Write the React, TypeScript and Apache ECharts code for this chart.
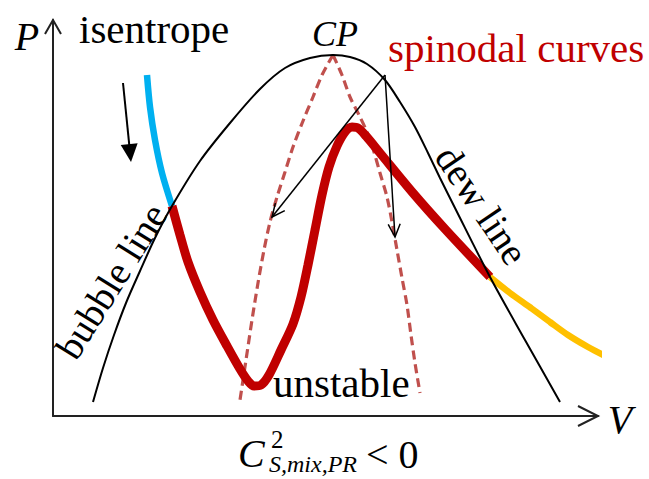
import React, { useEffect, useRef } from "react";
import * as echarts from "echarts";

// Schematic P–V diagram. Data units: V to the right, P upward.
const V_MAX = 545;
const P_MAX = 396;

// Binodal (bubble line on the left, dew line on the right), critical point at the top
const binodal: [number, number][] = [
  [40, 14], [50, 48], [61, 81], [73, 113], [87, 145], [102, 178], [119, 210],
  [147, 255], [177, 293], [207, 327], [232, 348], [257, 358], [280, 361],
  [297, 359], [314, 352], [332, 336], [347, 314], [362, 289], [375, 263],
  [387, 238], [402, 208], [437, 139], [472, 76], [507, 14],
];

// Isentrope: liquid branch (blue), inside the two-phase region (red), vapour branch (yellow)
const isentropeLiquid: [number, number][] = [
  [94, 341], [97, 309], [102, 276], [109, 243], [119, 210],
];
const isentropeTwoPhase: [number, number][] = [
  [119, 210], [127, 181], [135, 154], [147, 124], [160, 96], [174, 70], [187, 47],
  [195, 35], [201, 30], [208, 31], [216, 41], [228, 66], [240, 92], [248, 119],
  [255, 151], [262, 186], [269, 221], [276, 249], [284, 270], [292, 284],
  [299, 289], [305, 288], [313, 280], [327, 263], [360, 223], [392, 187], [437, 139],
];
const isentropeVapor: [number, number][] = [
  [437, 139], [457, 123], [478, 108], [497, 94], [515, 81], [535, 69], [554, 59],
];

// Spinodal curves (dashed), both starting at the critical point
const spinodalLeft: [number, number][] = [
  [280, 361], [269, 341], [260, 319], [250, 295], [240, 269], [232, 244],
  [224, 219], [217, 194], [211, 166], [205, 133], [199, 96], [193, 56], [187, 16],
];
const spinodalRight: [number, number][] = [
  [280, 361], [289, 341], [297, 319], [306, 301], [314, 284], [321, 264],
  [327, 243], [334, 219], [339, 194], [344, 166], [349, 138], [354, 111],
  [358, 81], [362, 53], [367, 23],
];

// Arrows: [fromV, fromP, toV, toP]
const arrowData: [number, number, number, number][] = [
  [70, 333, 78, 254],      // isentrope direction
  [332, 341, 219, 199],    // to left spinodal
  [332, 341, 342, 179],    // to right spinodal
  [0, 0, V_MAX, 0],        // V axis head
  [0, 0, 0, P_MAX],        // P axis head
];
const arrowStyles = [
  { filled: true, shaft: true, len: 18, half: 8.5, width: 2 },
  { filled: false, shaft: true, len: 13, half: 6, width: 1.5 },
  { filled: false, shaft: true, len: 13, half: 6, width: 1.5 },
  { filled: false, shaft: false, len: 20, half: 10, width: 2 },
  { filled: false, shaft: false, len: 14, half: 8, width: 2 },
];

const SERIF = '"Liberation Serif", "Times New Roman", serif';

function txt(
  text: string,
  x: number,
  y: number,
  size: number,
  opts: { italic?: boolean; color?: string; align?: string; rotation?: number } = {}
) {
  const align = opts.align || "left";
  return {
    type: "text",
    x,
    y,
    rotation: opts.rotation || 0,
    silent: true,
    z: 10,
    style: {
      text,
      fontFamily: SERIF,
      fontSize: size,
      fontStyle: opts.italic ? "italic" : "normal",
      fill: opts.color || "#000",
      align,
      verticalAlign: "middle",
      textAlign: align,
      textVerticalAlign: "middle",
    },
  };
}

export default function App() {
  const ref = useRef<HTMLDivElement>(null);

  useEffect(() => {
    if (!ref.current) return;
    const chart = echarts.init(ref.current, undefined, { renderer: "svg" });

    const curve = (data: [number, number][], color: string, width: number, z: number, dashed = false) => ({
      type: "line",
      data,
      symbol: "none",
      smooth: 0.3,
      clip: false,
      silent: true,
      z,
      lineStyle: {
        color,
        width,
        type: dashed ? [9, 5] : "solid",
        cap: "butt",
      },
    });

    chart.setOption({
      animation: false,
      backgroundColor: "#fff",
      grid: { left: 53, right: 51, top: 20, bottom: 63, containLabel: false },
      xAxis: {
        type: "value",
        min: 0,
        max: V_MAX,
        axisLine: { show: true, onZero: false, lineStyle: { color: "#222", width: 2 } },
        axisTick: { show: false },
        axisLabel: { show: false },
        splitLine: { show: false },
      },
      yAxis: {
        type: "value",
        min: 0,
        max: P_MAX,
        axisLine: { show: true, onZero: false, lineStyle: { color: "#222", width: 2 } },
        axisTick: { show: false },
        axisLabel: { show: false },
        splitLine: { show: false },
      },
      series: [
        curve(spinodalLeft, "#C0504D", 3.2, 2, true),
        curve(spinodalRight, "#C0504D", 3.2, 2, true),
        curve(isentropeLiquid, "#00B0F0", 6.5, 3),
        curve(isentropeTwoPhase, "#C00000", 9, 3),
        curve(isentropeVapor, "#FFC000", 6.5, 3),
        curve(binodal, "#000", 2, 4),
        {
          type: "custom",
          clip: false,
          silent: true,
          z: 5,
          data: arrowData,
          renderItem: (params: any, api: any) => {
            const st = arrowStyles[params.dataIndex];
            const p1 = api.coord([api.value(0), api.value(1)]);
            const p2 = api.coord([api.value(2), api.value(3)]);
            const dx = p2[0] - p1[0];
            const dy = p2[1] - p1[1];
            const L = Math.hypot(dx, dy);
            const ux = dx / L;
            const uy = dy / L;
            const bx = p2[0] - ux * st.len;
            const by = p2[1] - uy * st.len;
            const a = [bx - uy * st.half, by + ux * st.half];
            const b = [bx + uy * st.half, by - ux * st.half];
            const children: any[] = [];
            if (st.shaft) {
              children.push({
                type: "line",
                shape: {
                  x1: p1[0],
                  y1: p1[1],
                  x2: st.filled ? bx + ux * 2 : p2[0],
                  y2: st.filled ? by + uy * 2 : p2[1],
                },
                style: { stroke: "#000", lineWidth: st.width },
              });
            }
            if (st.filled) {
              children.push({
                type: "polygon",
                shape: { points: [a, p2, b] },
                style: { fill: "#000" },
              });
            } else {
              children.push({
                type: "polyline",
                shape: { points: [a, p2, b] },
                style: { stroke: st.shaft ? "#000" : "#222", lineWidth: st.width, fill: null },
              });
            }
            return { type: "group", children };
          },
        },
      ],
      graphic: {
        elements: [
          txt("P", 27, 36, 40, { italic: true, align: "center" }),
          txt("isentrope", 79, 29, 41),
          txt("CP", 312, 34, 36, { italic: true }),
          txt("spinodal curves", 388, 48, 41, { color: "#C00000" }),
          txt("unstable", 273, 383, 41),
          txt("V", 620, 419, 40, { italic: true, align: "center" }),
          txt("dew line", 482, 205, 39, { align: "center", rotation: (-56 * Math.PI) / 180 }),
          txt("bubble line", 111, 281, 39, { align: "center", rotation: (58 * Math.PI) / 180 }),
          txt("C", 238, 453, 40, { italic: true }),
          txt("2", 271, 439, 25),
          txt("S,mix,PR", 269, 464, 24, { italic: true }),
          txt("< 0", 366, 454, 40),
        ],
      },
    });

    return () => chart.dispose();
  }, []);

  return (
    <div
      ref={ref}
      style={{ position: "absolute", left: 0, top: 0, width: 649, height: 479, background: "#fff" }}
    />
  );
}
